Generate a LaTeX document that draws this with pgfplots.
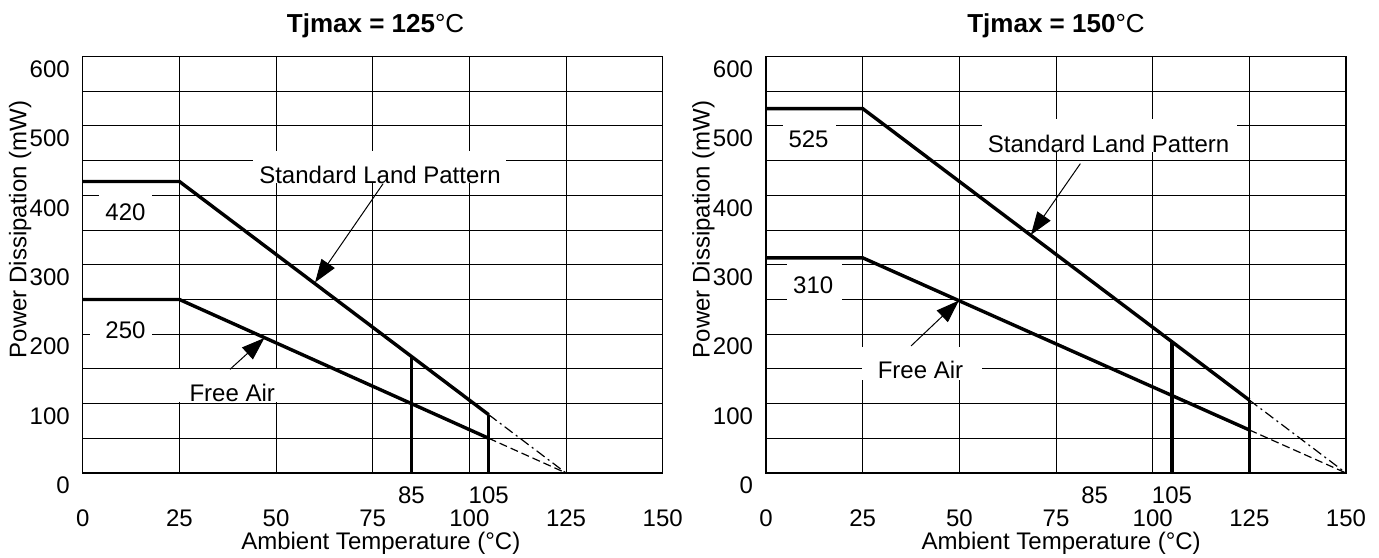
\documentclass[border=0pt]{standalone}
\usepackage{pgfplots}
\pgfplotsset{compat=1.18}
\usetikzlibrary{arrows.meta}
\usepackage{fontspec}
\setmainfont{Liberation Sans}

\pgfplotsset{
  derate/.style={
    scale only axis, width=290pt, height=208.25pt,
    xmin=0, xmax=150, ymin=0, ymax=600,
    xtick={0,25,...,150}, ytick={0,100,...,600},
    minor ytick={50,150,...,550},
    grid=both,
    major grid style={black, line width=0.5pt},
    minor grid style={black, line width=0.5pt},
    major tick length=0pt, minor tick length=0pt,
    axis line style={black, line width=0.6pt},
    clip=false,
    /pgf/number format/assume math mode=true,
    xticklabel style={anchor=center, yshift=-22.75pt},
    yticklabel style={anchor=east, inner sep=0pt, xshift=-6.3pt, yshift=-6.25pt},
    xlabel={Ambient Temperature (°C)},
    ylabel={Power Dissipation (mW)},
    ylabel style={at={(axis description cs:-0.108,0.585)}, anchor=center},
    title style={anchor=center, yshift=9.5pt, font=\fontsize{13}{15}\selectfont},
  },
  curve/.style={black, line width=1.7pt},
}
\tikzset{
  lbl/.style={inner sep=0pt},
  ann/.style={black, line width=0.5pt, -{Triangle[length=11.5pt,width=8pt]}},
  dd/.style={black, line width=0.6pt, dash pattern=on 5pt off 2pt on 1pt off 2pt},
  ds/.style={black, line width=0.6pt, dash pattern=on 4pt off 2pt},
}

\begin{document}
\fontsize{12}{14.4}\selectfont
\begin{tikzpicture}
\path[use as bounding box] (0,0) rectangle (689.5pt,278.5pt);

% Tjmax = 125 C
\begin{axis}[derate, at={(41.35pt,42pt)}, anchor=south west,
  title={\textbf{Tjmax = 125}°C},
  title style={at={(0.505,1)}},
  xlabel style={at={(axis description cs:0.514,-0.168)}, anchor=center}]
  \fill[white] (axis cs:44.0,417.3) rectangle (axis cs:109.6,463.9);
  \fill[white] (axis cs:4.2,352) rectangle (axis cs:17.8,407);
  \fill[white] (axis cs:1.9,184) rectangle (axis cs:17.8,225.7);
  \fill[white] (axis cs:23.0,101.9) rectangle (axis cs:53.9,149.4);
  \node[lbl, anchor=base] at (axis cs:76.9,416.9) {Standard Land Pattern};
  \node[lbl] at (axis cs:11.07,375.1) {420};
  \node[lbl] at (axis cs:11.07,205.6) {250};
  \node[lbl, anchor=base] at (axis cs:38.66,103.7) {Free Air};
  \node at (axis cs:85,0) [yshift=-11.15pt] {85};
  \node at (axis cs:105,0) [yshift=-11.15pt] {105};
  \addplot[curve] coordinates {(0,420) (25,420) (105,84)};
  \addplot[curve] coordinates {(0,250) (25,250) (105,50)};
  \addplot[curve] coordinates {(85,0) (85,168)};
  \addplot[curve] coordinates {(105,0) (105,84)};
  \addplot[dd] coordinates {(105,84) (125,0)};
  \addplot[ds] coordinates {(105,50) (125,0)};
  \draw[ann] (axis cs:77.7,416.9) -- (axis cs:60.1,274.6);
  \draw[ann] (axis cs:38.1,149.4) -- (axis cs:47.0,194.5);
\end{axis}

% Tjmax = 150 C
\begin{axis}[derate, at={(383pt,42pt)}, anchor=south west,
  title={\textbf{Tjmax = 150}°C},
  title style={at={(0.5,1)}},
  xlabel style={at={(axis description cs:0.509,-0.168)}, anchor=center}]
  \fill[white] (axis cs:55.9,462.4) rectangle (axis cs:121.8,510.6);
  \fill[white] (axis cs:4.3,462) rectangle (axis cs:18.1,511);
  \fill[white] (axis cs:5.4,248.8) rectangle (axis cs:19.6,303.5);
  \fill[white] (axis cs:24.7,133.5) rectangle (axis cs:55.8,181.5);
  \node[lbl, anchor=base] at (axis cs:88.6,462.4) {Standard Land Pattern};
  \node[lbl] at (axis cs:11.0,481.2) {525};
  \node[lbl] at (axis cs:12.2,270.4) {310};
  \node[lbl, anchor=base] at (axis cs:39.95,136) {Free Air};
  \node at (axis cs:85,0) [yshift=-11.15pt] {85};
  \node at (axis cs:105,0) [yshift=-11.15pt] {105};
  \addplot[curve] coordinates {(0,525) (25,525) (125,105)};
  \addplot[curve] coordinates {(0,310) (25,310) (125,62)};
  \addplot[curve] coordinates {(105,0) (105,189)};
  \addplot[curve] coordinates {(125,0) (125,105)};
  \addplot[dd] coordinates {(125,105) (150,0)};
  \addplot[ds] coordinates {(125,62) (150,0)};
  \draw[ann] (axis cs:81.3,445.7) -- (axis cs:68.5,343);
  \draw[ann] (axis cs:37.5,183) -- (axis cs:49.9,248.5);
\end{axis}
\end{tikzpicture}
\end{document}
